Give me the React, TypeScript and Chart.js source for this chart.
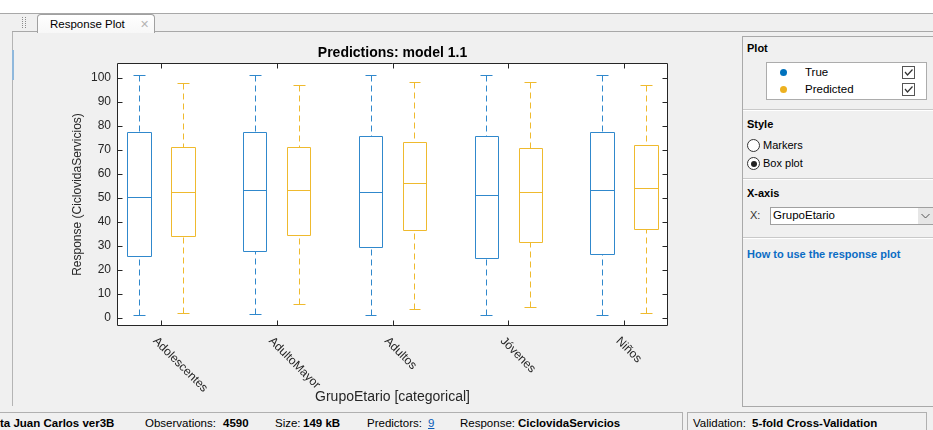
import React, { useEffect, useRef } from "react";
import { Chart, registerables } from "chart.js";

Chart.register(...registerables);

// ---------- data ----------
const categories = ["Adolescentes", "AdultoMayor", "Adultos", "Jóvenes", "Niños"];

const trueMin = [1.0, 1.4, 1.0, 1.0, 1.0];
const trueQ1 = [25.5, 27.6, 29.3, 24.7, 26.5];
const trueMedian = [50.1, 53.0, 52.2, 51.0, 53.3];
const trueQ3 = [77.4, 77.3, 75.6, 75.6, 77.4];
const trueMax = [101.2, 101.2, 101.2, 101.2, 101.2];

const predMin = [2.1, 5.8, 3.6, 4.4, 2.1];
const predQ1 = [33.8, 34.3, 36.4, 31.5, 37.1];
const predMedian = [52.2, 53.0, 56.0, 52.2, 54.0];
const predQ3 = [71.1, 71.1, 73.3, 70.6, 71.8];
const predMax = [97.6, 96.8, 98.0, 98.0, 97.1];

const yTickValues = [0, 10, 20, 30, 40, 50, 60, 70, 80, 90, 100];

const chartTitle = "Predictions: model 1.1";
const yAxisTitle = "Response (CiclovidaServicios)";
const xAxisTitle = "GrupoEtario [categorical]";

// ---------- style ----------
const FONT = '"Liberation Sans", Arial, Helvetica, sans-serif';
const INK = "#262626";
const BLUE = "#3088cc";
const ORANGE = "#efba2e";

const boxPlugin = {
  id: "matlabBoxes",
  beforeDraw(chart: any) {
    const { ctx, chartArea: a } = chart;
    ctx.save();
    ctx.fillStyle = "#ffffff";
    ctx.fillRect(a.left, a.top, a.right - a.left, a.bottom - a.top);
    ctx.restore();
  },
  afterDatasetsDraw(chart: any) {
    const { ctx, chartArea: a, scales } = chart;
    const xs = scales.x;
    const ys = scales.y;
    const px = (v: number) => Math.round(xs.getPixelForValue(v)) + 0.5;
    const py = (v: number) => Math.round(ys.getPixelForValue(v)) + 0.5;
    ctx.save();
    ctx.lineWidth = 1;
    chart.data.datasets.forEach((ds: any) => {
      const st = ds.stats;
      const off = ds.boxOffset;
      ctx.strokeStyle = ds.borderColor;
      for (let i = 0; i < categories.length; i++) {
        const c = i + off;
        const X = px(c);
        const left = px(c - 0.1);
        const right = px(c + 0.1);
        const capL = px(c - 0.05);
        const capR = px(c + 0.05);
        const yMin = py(st.min[i]);
        const yQ1 = py(st.q1[i]);
        const yMed = py(st.median[i]);
        const yQ3 = py(st.q3[i]);
        const yMax = py(st.max[i]);
        ctx.setLineDash([6, 4]);
        ctx.beginPath();
        ctx.moveTo(X, yMax);
        ctx.lineTo(X, yQ3);
        ctx.moveTo(X, yMin);
        ctx.lineTo(X, yQ1);
        ctx.stroke();
        ctx.setLineDash([]);
        ctx.beginPath();
        ctx.moveTo(capL, yMax);
        ctx.lineTo(capR, yMax);
        ctx.moveTo(capL, yMin);
        ctx.lineTo(capR, yMin);
        ctx.rect(left, yQ3, right - left, yQ1 - yQ3);
        ctx.moveTo(left, yMed);
        ctx.lineTo(right, yMed);
        ctx.stroke();
      }
    });

    // frame & inward ticks
    const L = Math.round(a.left) + 0.5;
    const R = Math.round(a.right) - 0.5;
    const T = Math.round(a.top) + 0.5;
    const B = Math.round(a.bottom) - 0.5;
    ctx.strokeStyle = INK;
    ctx.beginPath();
    ctx.rect(L, T, R - L, B - T);
    ys.ticks.forEach((t: any) => {
      const y = py(t.value);
      ctx.moveTo(L, y);
      ctx.lineTo(L + 5, y);
      ctx.moveTo(R, y);
      ctx.lineTo(R - 5, y);
    });
    xs.ticks.forEach((t: any) => {
      const x = px(t.value);
      ctx.moveTo(x, B);
      ctx.lineTo(x, B - 5);
      ctx.moveTo(x, T);
      ctx.lineTo(x, T + 5);
    });
    ctx.stroke();

    // rotated category labels
    ctx.fillStyle = INK;
    ctx.font = `12px ${FONT}`;
    ctx.textAlign = "left";
    ctx.textBaseline = "top";
    xs.ticks.forEach((t: any) => {
      const x = xs.getPixelForValue(t.value);
      ctx.save();
      ctx.translate(x - 2, a.bottom + 9);
      ctx.rotate(Math.PI / 4);
      ctx.fillText(categories[t.value], 0, 0);
      ctx.restore();
    });

    // titles
    const first = xs.getPixelForValue(0);
    const last = xs.getPixelForValue(categories.length - 1);
    ctx.textAlign = "center";
    ctx.textBaseline = "middle";
    ctx.font = `14px ${FONT}`;
    ctx.fillText(xAxisTitle, (first + last) / 2, a.bottom + 71);
    ctx.font = `bold 14px ${FONT}`;
    ctx.fillStyle = "#000";
    ctx.fillText(chartTitle, (a.left + a.right) / 2, a.top - 10);
    ctx.restore();
  },
};

function T(props: { x: number; y: number; size?: number; bold?: boolean; color?: string; underline?: boolean; children: any }) {
  const size = props.size ?? 11;
  const lh = Math.round(size * 1.3);
  return (
    <span
      style={{
        position: "absolute",
        left: props.x,
        top: props.y - lh / 2,
        fontSize: size,
        lineHeight: `${lh}px`,
        fontWeight: props.bold ? 700 : 400,
        color: props.color ?? "#000",
        whiteSpace: "nowrap",
        textDecoration: props.underline ? "underline" : "none",
      }}
    >
      {props.children}
    </span>
  );
}

function Check(props: { x: number; y: number }) {
  return (
    <div style={{ position: "absolute", left: props.x, top: props.y, width: 11, height: 11, border: "1px solid #555", background: "#fff" }}>
      <svg width="11" height="11" style={{ position: "absolute", left: 0, top: 0 }}>
        <polyline points="2,5 4.5,8 9.5,2.5" fill="none" stroke="#333" strokeWidth="1.2" />
      </svg>
    </div>
  );
}

function Sep(props: { y: number }) {
  return (
    <div style={{ position: "absolute", left: 743, top: props.y, width: 190, height: 1, background: "#c9c9c9", borderBottom: "1px solid #ffffff" }} />
  );
}

export default function App() {
  const ref = useRef<HTMLCanvasElement>(null);
  useEffect(() => {
    document.body.style.margin = "0";
    const chart = new Chart(ref.current as HTMLCanvasElement, {
      type: "scatter",
      data: {
        datasets: [
          {
            label: "True",
            data: categories.map((_, i) => ({ x: i - 0.19, y: trueMedian[i] })),
            pointRadius: 0,
            borderColor: BLUE,
            backgroundColor: BLUE,
            boxOffset: -0.19,
            stats: { min: trueMin, q1: trueQ1, median: trueMedian, q3: trueQ3, max: trueMax },
          } as any,
          {
            label: "Predicted",
            data: categories.map((_, i) => ({ x: i + 0.19, y: predMedian[i] })),
            pointRadius: 0,
            borderColor: ORANGE,
            backgroundColor: ORANGE,
            boxOffset: 0.19,
            stats: { min: predMin, q1: predQ1, median: predMedian, q3: predQ3, max: predMax },
          } as any,
        ],
      },
      options: {
        animation: false,
        responsive: false,
        layout: { padding: { left: 0, right: 72, top: 32, bottom: 0 } },
        plugins: { legend: { display: false }, tooltip: { enabled: false } },
        scales: {
          x: {
            type: "linear",
            min: -0.38,
            max: 4.38,
            grid: { display: false, drawTicks: false },
            border: { display: false },
            ticks: { display: false },
            afterBuildTicks: (s: any) => {
              s.ticks = categories.map((_, i) => ({ value: i }));
            },
            afterFit: (s: any) => {
              s.height = 80;
            },
          },
          y: {
            type: "linear",
            min: -3.5,
            max: 106.1,
            grid: { display: false, drawTicks: false },
            border: { display: false },
            ticks: { color: INK, font: { size: 12, family: FONT }, padding: 6 },
            afterBuildTicks: (s: any) => {
              s.ticks = yTickValues.map((v) => ({ value: v }));
            },
            afterFit: (s: any) => {
              s.width = 105;
            },
            title: {
              display: true,
              text: yAxisTitle,
              color: INK,
              font: { size: 12, family: FONT },
              padding: { top: 58, bottom: 0 },
            },
          },
        },
      } as any,
      plugins: [boxPlugin],
    });
    return () => chart.destroy();
  }, []);

  return (
    <div style={{ position: "relative", width: 933, height: 430, background: "#f0f0f0", overflow: "hidden", fontFamily: FONT, color: "#000" }}>
      {/* top strip */}
      <div style={{ position: "absolute", left: 0, top: 0, width: 933, height: 13, background: "#ffffff" }} />
      <div style={{ position: "absolute", left: 0, top: 13, width: 933, height: 1, background: "#a8a8a8" }} />
      <div style={{ position: "absolute", left: 22, top: 17, width: 2, height: 11, borderLeft: "1px dotted #8c8c8c", borderRight: "1px dotted #8c8c8c" }} />
      <div style={{ position: "absolute", left: 12, top: 31, width: 921, height: 1, background: "#a8a8a8" }} />
      <div
        style={{
          position: "absolute",
          left: 37,
          top: 14,
          width: 116,
          height: 18,
          background: "linear-gradient(#ffffff, #f7f7f7)",
          border: "1px solid #a0a0a0",
          borderBottom: "none",
          borderRadius: "4px 4px 0 0",
        }}
      >
        <span style={{ position: "absolute", left: 12, top: 2, fontSize: 11.5, lineHeight: "14px", whiteSpace: "nowrap" }}>Response Plot</span>
        <span style={{ position: "absolute", left: 102, top: 2, fontSize: 11, lineHeight: "14px", color: "#b5b5b5" }}>✕</span>
      </div>

      {/* document panel border */}
      <div style={{ position: "absolute", left: 12, top: 32, width: 1, height: 374, background: "#b4b4b4" }} />
      <div style={{ position: "absolute", left: 12, top: 50, width: 2, height: 30, background: "#8fb8dc" }} />

      <canvas ref={ref} width={728} height={375} style={{ position: "absolute", left: 12, top: 31, width: 728, height: 375 }} />

      {/* right panel */}
      <div style={{ position: "absolute", left: 742, top: 36, width: 200, height: 369, border: "1px solid #a9a9a9" }} />
      <T x={747} y={48} bold>Plot</T>
      <div style={{ position: "absolute", left: 766, top: 62, width: 159, height: 36, background: "#ffffff", border: "1px solid #acacac" }} />
      <div style={{ position: "absolute", left: 780, top: 69, width: 7, height: 7, borderRadius: "50%", background: "#0072BD" }} />
      <T x={805} y={72} size={11.5}>True</T>
      <Check x={902} y={66} />
      <div style={{ position: "absolute", left: 780, top: 86, width: 7, height: 7, borderRadius: "50%", background: "#EDB120" }} />
      <T x={805} y={89} size={11.5}>Predicted</T>
      <Check x={902} y={83} />
      <Sep y={109} />
      <T x={747} y={124} bold>Style</T>
      <div style={{ position: "absolute", left: 747, top: 139, width: 11, height: 11, borderRadius: "50%", border: "1px solid #333", background: "#fff" }} />
      <T x={763} y={145}>Markers</T>
      <div style={{ position: "absolute", left: 747, top: 157, width: 11, height: 11, borderRadius: "50%", border: "1px solid #333", background: "#fff" }}>
        <div style={{ position: "absolute", left: 2.5, top: 2.5, width: 6, height: 6, borderRadius: "50%", background: "#222" }} />
      </div>
      <T x={763} y={163}>Box plot</T>
      <Sep y={178} />
      <T x={747} y={193} bold>X-axis</T>
      <T x={750} y={215} color="#333">X:</T>
      <div style={{ position: "absolute", left: 770, top: 207, width: 170, height: 16, background: "#ffffff", border: "1px solid #a0a0a0" }} />
      <T x={773} y={215} size={11.5}>GrupoEtario</T>
      <div style={{ position: "absolute", left: 918, top: 208, width: 15, height: 16, background: "#e6e6e6" }}>
        <svg width="15" height="16" style={{ position: "absolute", left: 0, top: 0 }}>
          <polyline points="3.5,6 7.5,10 11.5,6" fill="none" stroke="#555" strokeWidth="1" />
        </svg>
      </div>
      <Sep y={237} />
      <T x={747} y={254} bold color="#0b6cc4">How to use the response plot</T>

      {/* status bar */}
      <div style={{ position: "absolute", left: -2, top: 412, width: 684, height: 20, borderTop: "1px solid #b0b0b0", borderRight: "1px solid #b0b0b0" }} />
      <div style={{ position: "absolute", left: 687, top: 412, width: 238, height: 20, border: "1px solid #b0b0b0" }} />
      <T x={0} y={423} size={11.5} bold>ta Juan Carlos ver3B</T>
      <T x={145} y={423} size={11.5}>Observations:</T>
      <T x={223} y={423} size={11.5} bold>4590</T>
      <T x={275} y={423} size={11.5}>Size:</T>
      <T x={303} y={423} size={11.5} bold>149 kB</T>
      <T x={367} y={423} size={11.5}>Predictors:</T>
      <T x={428} y={423} size={11.5} color="#0b5cb8" underline>9</T>
      <T x={460} y={423} size={11.5}>Response:</T>
      <T x={518} y={423} size={11.5} bold>CiclovidaServicios</T>
      <T x={693} y={423} size={11.5}>Validation:</T>
      <T x={752} y={423} size={11.5} bold>5-fold Cross-Validation</T>
    </div>
  );
}
